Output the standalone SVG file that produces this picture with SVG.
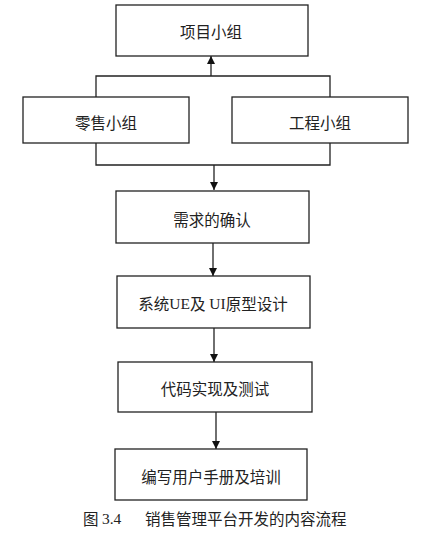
<svg xmlns="http://www.w3.org/2000/svg" width="443" height="539" viewBox="0 0 443 539">
<style>
.box{fill:#fff;stroke:#222;stroke-width:1.3}
.t{font-family:"Noto Sans CJK SC","Liberation Sans",sans-serif;font-size:15.5px;fill:#222;text-anchor:middle;dominant-baseline:central}
.s{font-family:"Liberation Serif",serif}
.ln{fill:none;stroke:#222;stroke-width:1.3}
</style>
<defs>
<marker id="ah" viewBox="0 0 10 10" refX="10" refY="5" markerWidth="8" markerHeight="9" markerUnits="userSpaceOnUse" orient="auto">
<path d="M0,0 L10,5 L0,10 Z" fill="#111"/>
</marker>
</defs>
<rect width="443" height="539" fill="#fff"/>
<g id="connectors">
<path class="ln" d="M96,97 V76 H330 V97"/>
<path class="ln" d="M211,76 V56" marker-end="url(#ah)"/>
<path class="ln" d="M96,143 V165 H330 V143"/>
<path class="ln" d="M214,165 V190" marker-end="url(#ah)"/>
<path class="ln" d="M213,243 V276" marker-end="url(#ah)"/>
<path class="ln" d="M214,328 V362" marker-end="url(#ah)"/>
<path class="ln" d="M216,412 V449" marker-end="url(#ah)"/>
</g>
<g id="n1"><rect class="box" x="116" y="5" width="192" height="51"/><text class="t" x="211" y="31">项目小组</text></g>
<g id="n2"><rect class="box" x="23" y="97" width="166" height="46"/><text class="t" x="106" y="122">零售小组</text></g>
<g id="n3"><rect class="box" x="232" y="97" width="176" height="46"/><text class="t" x="320" y="122">工程小组</text></g>
<g id="n4"><rect class="box" x="116" y="191" width="193" height="52"/><text class="t" x="212" y="219">需求的确认</text></g>
<g id="n5"><rect class="box" x="117" y="276" width="193" height="52"/><text class="t" x="213" y="303">系统<tspan class="s">UE</tspan>及<tspan class="s"> UI</tspan>原型设计</text></g>
<g id="n6"><rect class="box" x="118" y="362" width="194" height="50"/><text class="t" x="215" y="388">代码实现及测试</text></g>
<g id="n7"><rect class="box" x="115" y="449" width="192" height="51"/><text class="t" x="211" y="476">编写用户手册及培训</text></g>
<g id="caption">
<text class="t" x="83" y="518" style="text-anchor:start">图 <tspan class="s">3.4</tspan></text>
<text class="t" x="145" y="518" style="text-anchor:start">销售管理平台开发的内容流程</text>
</g>
</svg>
